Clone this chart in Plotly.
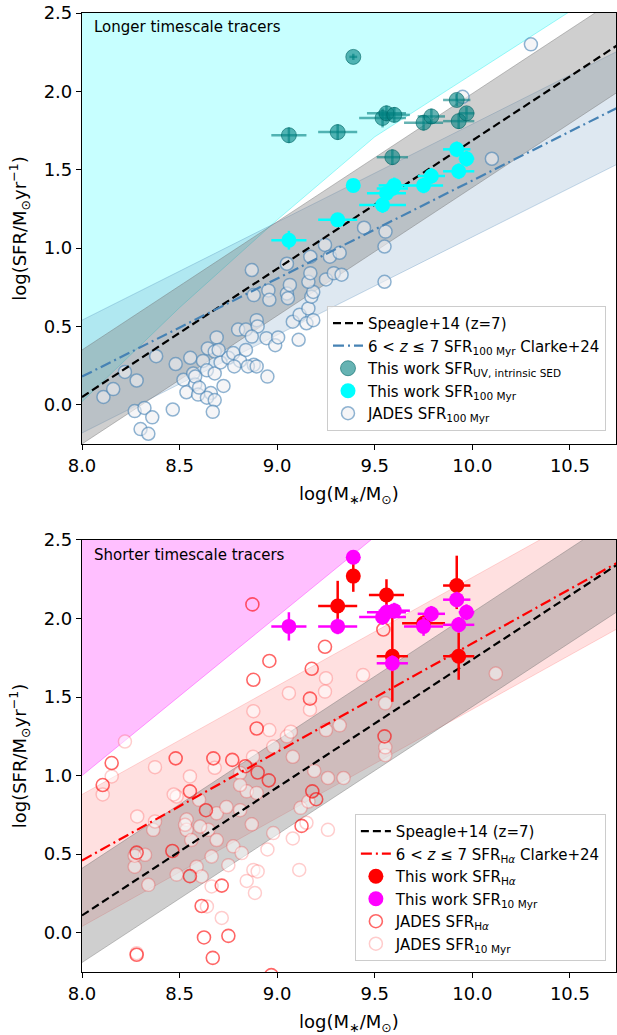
import plotly.graph_objects as go

# ---------------- data ----------------
# This work (shared stellar masses for both panels)
tw_mass = [9.06, 9.31, 9.39, 9.54, 9.56, 9.60, 9.59, 9.75, 9.79, 9.92, 9.93, 9.97]
tw_mass_err = [0.09, 0.10, 0.02, 0.12, 0.10, 0.08, 0.08, 0.10, 0.07, 0.07, 0.08, 0.04]

sfr_uv = [1.72, 1.74, 2.22, 1.83, 1.86, 1.85, 1.58, 1.80, 1.84, 1.945, 1.81, 1.86]
sfr_uv_err = [0.05, 0.05, 0.02, 0.06, 0.05, 0.05, 0.05, 0.05, 0.05, 0.04, 0.05, 0.04]

sfr_100 = [1.05, 1.18, 1.40, 1.275, 1.35, 1.40, 1.38, 1.40, 1.46, 1.63, 1.49, 1.57]
sfr_100_err = [0.06, 0.04, 0.03, 0.05, 0.05, 0.05, 0.05, 0.05, 0.05, 0.05, 0.05, 0.05]

sfr_10 = [1.95, 1.95, 2.39, 2.01, 2.04, 2.05, 1.715, 1.95, 2.03, 2.12, 1.96, 2.04]
sfr_10_err = [0.09, 0.05, 0.03, 0.05, 0.05, 0.05, 0.05, 0.06, 0.05, 0.05, 0.05, 0.05]

ha_mass = [9.31, 9.39, 9.56, 9.59, 9.75, 9.92, 9.93]
ha_mass_err = [0.10, 0.02, 0.09, 0.08, 0.11, 0.07, 0.08]
sfr_ha = [2.08, 2.27, 2.15, 1.76, 1.97, 2.21, 1.76]
sfr_ha_err_up = [0.16, 0.10, 0.10, 0.29, 0.05, 0.19, 0.15]
sfr_ha_err_lo = [0.10, 0.10, 0.08, 0.29, 0.05, 0.15, 0.15]

# JADES SFR_100Myr
jades100_mass = [8.11, 8.16, 8.22, 8.28, 8.38, 8.27, 8.32, 8.36, 8.30, 8.34, 8.465, 8.48,
                 8.555, 8.52, 8.57, 8.58, 8.535, 8.595, 8.62, 8.645, 8.69, 8.68, 8.64, 8.68,
                 8.725, 8.66, 8.64, 8.68, 8.67, 8.71, 8.75, 8.775, 8.80, 8.84, 8.895, 8.90,
                 8.87, 8.81, 8.84, 8.88, 8.85, 8.895, 8.78, 8.945, 8.99, 9.005, 8.95, 8.87,
                 8.88, 8.955, 8.96, 9.05, 9.065, 9.055, 9.05, 9.08, 9.115, 9.11, 9.16, 9.15,
                 9.185, 9.175, 9.185, 9.16, 9.17, 9.25, 9.245, 9.17, 9.27, 9.29, 9.32, 9.445,
                 9.555, 9.55, 9.55, 9.33, 10.10, 10.30, 9.95, 8.58, 8.60, 8.70]
jades100_sfr = [0.05, 0.10, 0.21, 0.155, 0.31, -0.04, -0.02, -0.08, -0.155, -0.185, -0.03, 0.26,
                0.30, 0.16, 0.20, 0.13, 0.08, 0.065, 0.28, 0.36, 0.43, 0.34, 0.22, 0.20,
                0.12, 0.075, 0.045, 0.03, -0.045, 0.27, 0.30, 0.33, 0.48, 0.48, 0.54, 0.50,
                0.435, 0.28, 0.35, 0.255, 0.245, 0.245, 0.245, 0.425, 0.38, 0.43, 0.18, 0.86,
                0.70, 0.73, 0.67, 0.71, 0.765, 0.68, 0.90, 0.53, 0.575, 0.415, 0.615, 0.52,
                0.54, 0.69, 0.72, 0.785, 0.84, 0.80, 1.02, 0.945, 0.945, 0.84, 0.97, 1.13,
                1.105, 1.01, 0.785, 0.83, 1.57, 2.30, 1.965, 0.18, 0.11, 0.35]

# JADES SFR_Halpha
jadesha_mass = [8.106, 8.152, 8.28, 8.28, 8.463, 8.48, 8.553, 8.553, 8.613, 8.625, 8.635,
                8.67, 8.673, 8.716, 8.75, 8.77, 8.837, 8.873, 8.878, 8.895, 8.90, 8.957,
                8.96, 8.97, 9.125, 9.168, 9.177, 9.18, 9.20, 9.245, 9.544, 9.55]
jadesha_sfr = [0.94, 1.08, 0.51, -0.14, 0.52, 1.11, 0.90, 0.36, 0.17, -0.03, 0.78,
               -0.16, 1.11, 0.30, -0.02, 1.10, 1.06, 2.09, 1.61, 1.30, 1.02, 0.97,
               1.73, -0.27, 0.68, 1.49, 1.68, 0.90, 0.85, 1.82, 1.93, 1.25]

# JADES SFR_10Myr
jades10_mass = [8.22, 8.152, 8.106, 8.374, 8.553, 8.68, 8.81, 8.878, 8.485, 8.283, 8.536,
                8.60, 8.69, 8.74, 8.81, 8.844, 8.895, 8.87, 8.647, 8.536, 8.365, 8.323,
                8.27, 8.34, 8.485, 8.587, 8.613, 8.664, 8.69, 8.56, 8.528, 8.605, 8.775,
                8.818, 8.75, 8.664, 8.64, 8.716, 8.844, 8.878, 8.90, 8.886, 8.95, 8.98,
                9.08, 9.113, 9.26, 9.15, 8.374, 8.81, 9.12, 9.16, 9.26, 9.34, 9.19, 8.47,
                9.25, 9.245, 9.06, 9.44, 10.12, 9.168, 9.554, 9.32, 9.25, 9.05, 9.07,
                8.98, 9.08, 9.554, 9.554, 8.876, 8.96, 8.28, 8.27]
jades10_sfr = [1.217, 0.995, 0.88, 1.054, 0.995, 1.05, 1.016, 1.41, 0.867, 0.74, 0.72,
               0.846, 0.76, 0.80, 0.78, 0.90, 0.89, 0.69, 0.655, 0.655, 0.655, 0.496,
               0.42, 0.305, 0.37, 0.42, 0.358, 0.485, 0.59, 0.59, 0.687, 0.676, 0.55,
               0.507, 0.43, 0.295, 0.167, 0.094, 0.33, 0.40, 0.39, 0.253, 0.53, 0.634,
               0.60, 0.40, 0.655, 0.70, 0.708, 0.94, 0.795, 0.835, 0.985, 0.985, 1.03, 0.88,
               1.62, 1.535, 1.525, 1.64, 1.65, 1.42, 1.46, 1.32, 1.29, 1.25, 1.28,
               1.185, 1.12, 1.13, 1.18, 1.12, 1.29, -0.13, 0.49]

# Relations (end points) and their scatter envelopes
rel_x = [8.0, 10.75]
speagle_top = [0.05, 2.30]
speagle_top_lo = [-0.25, 2.00]
speagle_top_hi = [0.35, 2.60]
clarke100 = [0.18, 1.90]
clarke100_lo = [-0.18, 1.54]
clarke100_hi = [0.54, 2.26]

speagle_bot = [0.11, 2.35]
speagle_bot_lo = [-0.19, 2.05]
speagle_bot_hi = [0.41, 2.65]
clarkeha = [0.46, 2.36]
clarkeha_lo = [0.04, 1.94]
clarkeha_hi = [0.88, 2.78]

# Envelopes of the long / short timescale regions (lower boundaries)
long_env_x = [8.0, 8.5, 9.0, 9.5, 10.0, 10.5]
long_env_y = [0.02, 0.62, 1.18, 1.71, 2.11, 2.51]
short_env_x = [8.0, 9.5]
short_env_y = [1.0, 2.52]

FONT = "DejaVu Sans"
fig = go.Figure()


def band(x, lo, hi, fill, edge, xa, ya):
    fig.add_trace(go.Scatter(x=x, y=lo, mode="lines", line=dict(color=edge, width=1),
                             showlegend=False, hoverinfo="skip", xaxis=xa, yaxis=ya))
    fig.add_trace(go.Scatter(x=x, y=hi, mode="lines", line=dict(color=edge, width=1),
                             fill="tonexty", fillcolor=fill, showlegend=False,
                             hoverinfo="skip", xaxis=xa, yaxis=ya))


def region_above(x, y, fill, edge, xa, ya):
    px = list(x) + [x[-1], x[0]]
    py = list(y) + [3.0, 3.0]
    fig.add_trace(go.Scatter(x=px, y=py, mode="lines", fill="toself", fillcolor=fill,
                             line=dict(color=edge, width=1), showlegend=False,
                             hoverinfo="skip", xaxis=xa, yaxis=ya))


# ---------------- top panel ----------------
region_above(long_env_x, long_env_y, "rgba(0,255,255,0.22)", "rgba(0,230,230,0.35)", "x", "y")
band(rel_x, clarke100_lo, clarke100_hi, "rgba(70,130,180,0.18)", "rgba(70,130,180,0.3)", "x", "y")
band(rel_x, speagle_top_lo, speagle_top_hi, "rgba(128,128,128,0.38)", "rgba(110,110,110,0.4)", "x", "y")

fig.add_trace(go.Scatter(
    x=jades100_mass, y=jades100_sfr, mode="markers", name="JADES SFR<sub>100 Myr</sub>",
    marker=dict(size=13, color="rgba(238,238,242,0.6)",
                line=dict(color="rgba(70,130,180,0.6)", width=1.5)),
    legend="legend", legendrank=5, xaxis="x", yaxis="y"))

fig.add_trace(go.Scatter(
    x=rel_x, y=speagle_top, mode="lines", name="Speagle+14 (z=7)",
    line=dict(color="black", width=2.2, dash="8px,4px"),
    legend="legend", legendrank=1, xaxis="x", yaxis="y"))
fig.add_trace(go.Scatter(
    x=rel_x, y=clarke100, mode="lines",
    name="6 &lt; <i>z</i> ≤ 7 SFR<sub>100 Myr</sub> Clarke+24",
    line=dict(color="steelblue", width=2.2, dash="11px,4px,2px,4px"),
    legend="legend", legendrank=2, xaxis="x", yaxis="y"))

fig.add_trace(go.Scatter(
    x=tw_mass, y=sfr_uv, mode="markers", name="This work SFR<sub>UV, intrinsic SED</sub>",
    error_x=dict(type="data", array=tw_mass_err, color="rgba(0,128,128,0.6)", thickness=2.5, width=0),
    error_y=dict(type="data", array=sfr_uv_err, color="rgba(0,128,128,0.6)", thickness=2.5, width=0),
    marker=dict(size=15, color="rgba(0,128,128,0.6)", line=dict(color="rgba(0,100,100,0.6)", width=1)),
    legend="legend", legendrank=3, xaxis="x", yaxis="y"))
fig.add_trace(go.Scatter(
    x=tw_mass, y=sfr_100, mode="markers", name="This work SFR<sub>100 Myr</sub>",
    error_x=dict(type="data", array=tw_mass_err, color="cyan", thickness=2.5, width=0),
    error_y=dict(type="data", array=sfr_100_err, color="cyan", thickness=2.5, width=0),
    marker=dict(size=15, color="cyan"),
    legend="legend", legendrank=4, xaxis="x", yaxis="y"))

# ---------------- bottom panel ----------------
region_above(short_env_x, short_env_y, "rgba(255,0,255,0.25)", "rgba(255,0,255,0.35)", "x2", "y2")
band(rel_x, clarkeha_lo, clarkeha_hi, "rgba(255,0,0,0.12)", "rgba(255,0,0,0.15)", "x2", "y2")
band(rel_x, speagle_bot_lo, speagle_bot_hi, "rgba(128,128,128,0.38)", "rgba(110,110,110,0.4)", "x2", "y2")

fig.add_trace(go.Scatter(
    x=jades10_mass, y=jades10_sfr, mode="markers", name="JADES SFR<sub>10 Myr</sub>",
    marker=dict(size=13, color="rgba(255,255,255,0.5)",
                line=dict(color="rgba(255,0,0,0.2)", width=1.5)),
    legend="legend2", legendrank=6, xaxis="x2", yaxis="y2"))
fig.add_trace(go.Scatter(
    x=jadesha_mass, y=jadesha_sfr, mode="markers", name="JADES SFR<sub>H<i>α</i></sub>",
    marker=dict(size=13, color="rgba(255,255,255,0)",
                line=dict(color="rgba(255,0,0,0.6)", width=1.6)),
    legend="legend2", legendrank=5, xaxis="x2", yaxis="y2"))

fig.add_trace(go.Scatter(
    x=rel_x, y=speagle_bot, mode="lines", name="Speagle+14 (z=7)",
    line=dict(color="black", width=2.2, dash="8px,4px"),
    legend="legend2", legendrank=1, xaxis="x2", yaxis="y2"))
fig.add_trace(go.Scatter(
    x=rel_x, y=clarkeha, mode="lines",
    name="6 &lt; <i>z</i> ≤ 7 SFR<sub>H<i>α</i></sub> Clarke+24",
    line=dict(color="red", width=2.2, dash="11px,4px,2px,4px"),
    legend="legend2", legendrank=2, xaxis="x2", yaxis="y2"))

fig.add_trace(go.Scatter(
    x=ha_mass, y=sfr_ha, mode="markers", name="This work SFR<sub>H<i>α</i></sub>",
    error_x=dict(type="data", array=ha_mass_err, color="red", thickness=2.5, width=0),
    error_y=dict(type="data", symmetric=False, array=sfr_ha_err_up, arrayminus=sfr_ha_err_lo,
                 color="red", thickness=2.5, width=0),
    marker=dict(size=15, color="red"),
    legend="legend2", legendrank=3, xaxis="x2", yaxis="y2"))
fig.add_trace(go.Scatter(
    x=tw_mass, y=sfr_10, mode="markers", name="This work SFR<sub>10 Myr</sub>",
    error_x=dict(type="data", array=tw_mass_err, color="magenta", thickness=2.5, width=0),
    error_y=dict(type="data", array=sfr_10_err, color="magenta", thickness=2.5, width=0),
    marker=dict(size=15, color="magenta"),
    legend="legend2", legendrank=4, xaxis="x2", yaxis="y2"))

# ---------------- layout ----------------
XR = [8.0, 10.736]
YR = [-0.25, 2.5]
tick_font = dict(family=FONT, size=18, color="black")
axis_common = dict(showline=True, mirror=True, linecolor="black", linewidth=1.2,
                   ticks="outside", ticklen=5, tickwidth=1.2, tickcolor="black",
                   showgrid=False, zeroline=False, tickfont=tick_font)
xtitle = dict(text="log(M<sub>∗</sub>/M<sub>⊙</sub>)", font=tick_font, standoff=12)
ytitle = dict(text="log(SFR/M<sub>⊙</sub>yr<sup>−1</sup>)", font=tick_font, standoff=12)

legend_common = dict(bgcolor="rgba(255,255,255,0.8)", bordercolor="#cccccc", borderwidth=1,
                     font=dict(family=FONT, size=15, color="black"),
                     xanchor="left", yanchor="top", traceorder="normal")

fig.update_layout(
    width=617, height=1035,
    margin=dict(l=82, r=1, t=13, b=63),
    paper_bgcolor="white", plot_bgcolor="white",
    font=dict(family=FONT, color="black"),
    xaxis=dict(domain=[0, 1], range=XR, anchor="y", tickvals=[8.0, 8.5, 9.0, 9.5, 10.0, 10.5],
               tickformat=".1f", title=xtitle, **axis_common),
    yaxis=dict(domain=[0.5506, 1], range=YR, anchor="x", tickvals=[0.0, 0.5, 1.0, 1.5, 2.0, 2.5],
               tickformat=".1f", title=ytitle, **axis_common),
    xaxis2=dict(domain=[0, 1], range=XR, anchor="y2", tickvals=[8.0, 8.5, 9.0, 9.5, 10.0, 10.5],
                tickformat=".1f", title=xtitle, **axis_common),
    yaxis2=dict(domain=[0, 0.4505], range=YR, anchor="x2", tickvals=[0.0, 0.5, 1.0, 1.5, 2.0, 2.5],
                tickformat=".1f", title=ytitle, **axis_common),
    legend=dict(x=0.4588, y=0.6945, **legend_common),
    legend2=dict(x=0.511, y=0.1648, **legend_common),
    annotations=[
        dict(text="Longer timescale tracers", xref="paper", yref="paper", x=0.0187, y=0.9854,
             xanchor="left", yanchor="middle", showarrow=False,
             font=dict(family=FONT, size=15, color="black")),
        dict(text="Shorter timescale tracers", xref="paper", yref="paper", x=0.0187, y=0.4348,
             xanchor="left", yanchor="middle", showarrow=False,
             font=dict(family=FONT, size=15, color="black")),
    ],
)

fig.write_html("out.html")
